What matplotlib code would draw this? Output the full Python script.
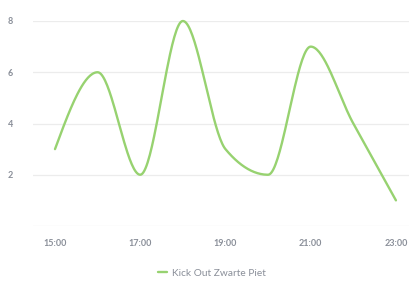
import numpy as np
import matplotlib
matplotlib.use("Agg")
import matplotlib.pyplot as plt

hours = [15, 16, 17, 18, 19, 20, 21, 22, 23]
values = [3, 6, 2, 8, 3, 2, 7, 4, 1]
xtick_hours = [15, 17, 19, 21, 23]
xtick_labels = ["15:00", "17:00", "19:00", "21:00", "23:00"]
ytick_values = [2, 4, 6, 8]
series_name = "Kick Out Zwarte Piet"


def monotone_curve(x, y, n=40):
    x = np.asarray(x, float)
    y = np.asarray(y, float)
    h = np.diff(x)
    s = np.diff(y) / h
    m = np.zeros_like(y)
    for i in range(1, len(y) - 1):
        if s[i - 1] * s[i] <= 0:
            m[i] = 0.0
        else:
            p = (s[i - 1] * h[i] + s[i] * h[i - 1]) / (h[i - 1] + h[i])
            m[i] = (np.sign(s[i - 1]) + np.sign(s[i])) * min(abs(s[i - 1]), abs(s[i]), 0.5 * abs(p))
    m[0] = (3 * s[0] - m[1]) / 2
    m[-1] = (3 * s[-1] - m[-2]) / 2
    xs, ys = [], []
    for i in range(len(x) - 1):
        t = np.linspace(0, 1, n, endpoint=(i == len(x) - 2))
        h00 = 2 * t**3 - 3 * t**2 + 1
        h10 = t**3 - 2 * t**2 + t
        h01 = -2 * t**3 + 3 * t**2
        h11 = t**3 - t**2
        xs.append(x[i] + t * h[i])
        ys.append(h00 * y[i] + h10 * h[i] * m[i] + h01 * y[i + 1] + h11 * h[i] * m[i + 1])
    return np.concatenate(xs), np.concatenate(ys)


plt.rcParams["font.family"] = ["Lato", "DejaVu Sans"]
fig = plt.figure(figsize=(4.10, 2.85), dpi=100)
ax = fig.add_axes([33 / 410, 59 / 285, 1 - 33 / 410, 205 / 285])

cx, cy = monotone_curve(hours, values)
line_color = "#97d270"
ax.plot(cx, cy, color=line_color, lw=1.7, clip_on=False, label=series_name, solid_capstyle="round")

ax.set_xlim(14.484, 23.33)
ax.set_ylim(0, 8)
ax.set_xticks(xtick_hours)
ax.set_xticklabels(xtick_labels)
ax.set_yticks([0] + ytick_values)
ax.set_yticklabels([""] + [str(v) for v in ytick_values])
ax.grid(axis="y", color="#ececec", lw=0.9)
ax.grid(axis="x", visible=False)
ax.set_axisbelow(True)
for sp in ax.spines.values():
    sp.set_visible(False)
ax.tick_params(axis="both", length=0, labelsize=6.5, colors="#8a8f99")
ax.tick_params(axis="x", pad=9)
ax.tick_params(axis="y", pad=18)
for lbl in ax.get_xticklabels():
    lbl.set_fontweight("bold")
for lbl in ax.get_yticklabels():
    lbl.set_fontweight("bold")
    lbl.set_horizontalalignment("left")

leg = fig.legend(loc="center", bbox_to_anchor=(212 / 410, 1 - 273 / 285), frameon=False,
                 fontsize=7.3, handlelength=0.9, handletextpad=0.5)
for t in leg.get_texts():
    t.set_color("#8a8f99")

fig.savefig("out.png", dpi=100)
